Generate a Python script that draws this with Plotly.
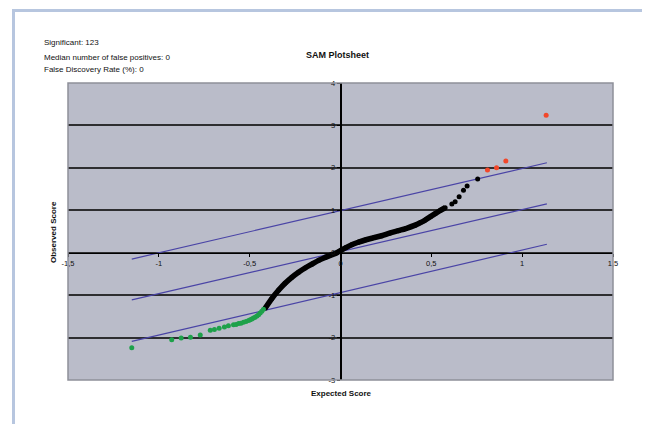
import plotly.graph_objects as go

# ---- data ----
green_x = [-1.149, -0.929, -0.877, -0.826, -0.772, -0.717, -0.694, -0.668, -0.639, -0.617,
           -0.589, -0.575, -0.561, -0.548, -0.534, -0.520, -0.506, -0.497, -0.488, -0.479,
           -0.470, -0.460, -0.451, -0.442, -0.433, -0.424]
green_y = [-2.24, -2.05, -2.01, -1.99, -1.94, -1.83, -1.81, -1.78, -1.75, -1.72,
           -1.70, -1.69, -1.67, -1.66, -1.64, -1.62, -1.60, -1.58, -1.56, -1.54,
           -1.52, -1.49, -1.46, -1.42, -1.38, -1.33]

black_dense_x = [-0.415, -0.378, -0.340, -0.305, -0.268, -0.231, -0.195, -0.158, -0.120, -0.084,
                 -0.050, -0.020, 0.000, 0.030, 0.062, 0.100, 0.136, 0.180, 0.227, 0.270,
                 0.319, 0.360, 0.411, 0.440, 0.466, 0.495, 0.521, 0.550, 0.576]
black_dense_y = [-1.31, -1.08, -0.88, -0.72, -0.58, -0.46, -0.36, -0.27, -0.18, -0.11,
                 -0.05, 0.00, 0.05, 0.12, 0.19, 0.25, 0.30, 0.35, 0.40, 0.46,
                 0.52, 0.57, 0.65, 0.71, 0.77, 0.85, 0.92, 1.00, 1.06]

black_sparse_x = [0.613, 0.631, 0.653, 0.677, 0.697, 0.755]
black_sparse_y = [1.15, 1.20, 1.32, 1.47, 1.57, 1.74]

red_x = [0.809, 0.859, 0.910, 1.132]
red_y = [1.95, 2.00, 2.16, 3.24]

line_x = [-1.149, 1.136]
upper_y = [-0.15, 2.12]
middle_y = [-1.11, 1.15]
lower_y = [-2.09, 0.20]

x_ticks = [-1.5, -1.0, -0.5, 0.0, 0.5, 1.0, 1.5]
x_ticktext = ["-1,5", "-1", "-0,5", "0", "0,5", "1", "1,5"]
y_ticks = [-3, -2, -1, 0, 1, 2, 3, 4]
y_ticktext = ["-3", "-2", "-1", "0", "1", "2", "3", "4"]

info_lines = ["Significant: 123",
              "Median number of false positives: 0",
              "False Discovery Rate (%): 0"]

FONT = "Liberation Sans, Arial, sans-serif"
LINE_COL = "#4a44a6"

fig = go.Figure()
for ys in (upper_y, middle_y, lower_y):
    fig.add_trace(go.Scatter(x=line_x, y=ys, mode="lines",
                             line=dict(color=LINE_COL, width=1.2), hoverinfo="skip"))

fig.add_trace(go.Scatter(x=black_dense_x, y=black_dense_y, mode="lines+markers",
                         line=dict(color="black", width=5.5, shape="spline"),
                         marker=dict(color="black", size=5)))
fig.add_trace(go.Scatter(x=black_sparse_x, y=black_sparse_y, mode="markers",
                         marker=dict(color="black", size=5)))
fig.add_trace(go.Scatter(x=green_x, y=green_y, mode="markers",
                         marker=dict(color="#1ea14a", size=5)))
fig.add_trace(go.Scatter(x=red_x, y=red_y, mode="markers",
                         marker=dict(color="#f2472a", size=5)))

# page body adds an 8px offset; the figure is sized to fit the rest of the window
OFF = 8
W, H = 650 - OFF, 424 - OFF
PL, PR, PT, PB = 68, 613, 83, 380          # target plot-area edges on screen
L, T = PL - OFF, PT - OFF
pw, ph = PR - PL, PB - PT
R, B = W - L - pw, H - T - ph

def px2xp(px):
    return (px - PL) / pw

def py2yp(py):
    return (PB - py) / ph

annotations = []
for txt, py in zip(info_lines, [42, 57.5, 69]):
    annotations.append(dict(text=txt, x=px2xp(42), y=py2yp(py), xref="paper", yref="paper",
                            xanchor="left", yanchor="middle", showarrow=False,
                            font=dict(family=FONT, size=8, color="#111")))
annotations.append(dict(text="<b>SAM Plotsheet</b>", x=px2xp(337), y=py2yp(55),
                        xref="paper", yref="paper", xanchor="center", yanchor="middle",
                        showarrow=False, font=dict(family=FONT, size=9, color="#111")))
annotations.append(dict(text="<b>Expected Score</b>", x=px2xp(341), y=py2yp(393),
                        xref="paper", yref="paper", xanchor="center", yanchor="middle",
                        showarrow=False, font=dict(family=FONT, size=8, color="#111")))
annotations.append(dict(text="<b>Observed Score</b>", x=px2xp(53), y=py2yp(232),
                        xref="paper", yref="paper", xanchor="center", yanchor="middle",
                        textangle=-90, showarrow=False,
                        font=dict(family=FONT, size=8, color="#111")))

shapes = [
    # outer light-blue frame
    dict(type="rect", xref="paper", yref="paper",
         x0=px2xp(13.5), x1=px2xp(647.5), y0=py2yp(440), y1=py2yp(10.5),
         line=dict(color="#b7c6df", width=3), fillcolor="rgba(0,0,0,0)", layer="below"),
    # plot area border
    dict(type="rect", xref="paper", yref="paper", x0=0, x1=1, y0=0, y1=1,
         line=dict(color="#8e9099", width=1.5), fillcolor="rgba(0,0,0,0)", layer="above"),
]

fig.update_layout(
    width=W, height=H,
    margin=dict(l=L, r=R, t=T, b=B),
    paper_bgcolor="white",
    plot_bgcolor="#babcc9",
    showlegend=False,
    font=dict(family=FONT, size=7.5, color="#111"),
    annotations=annotations,
    shapes=shapes,
    xaxis=dict(range=[-1.5, 1.5], tickvals=x_ticks, ticktext=x_ticktext,
               showgrid=False, zeroline=False, anchor="free", position=3 / 7,
               showline=True, linecolor="black", linewidth=1.2,
               ticks="outside", ticklen=3, tickcolor="black",
               tickfont=dict(family=FONT, size=7.5)),
    yaxis=dict(range=[-3, 4], tickvals=y_ticks, ticktext=y_ticktext,
               showgrid=True, gridcolor="#2e2e30", gridwidth=1.5, zeroline=False,
               anchor="free", position=0.5,
               showline=True, linecolor="black", linewidth=1.5,
               ticks="outside", ticklen=3, tickcolor="black",
               tickfont=dict(family=FONT, size=7.5)),
)

fig.write_html("out.html")
